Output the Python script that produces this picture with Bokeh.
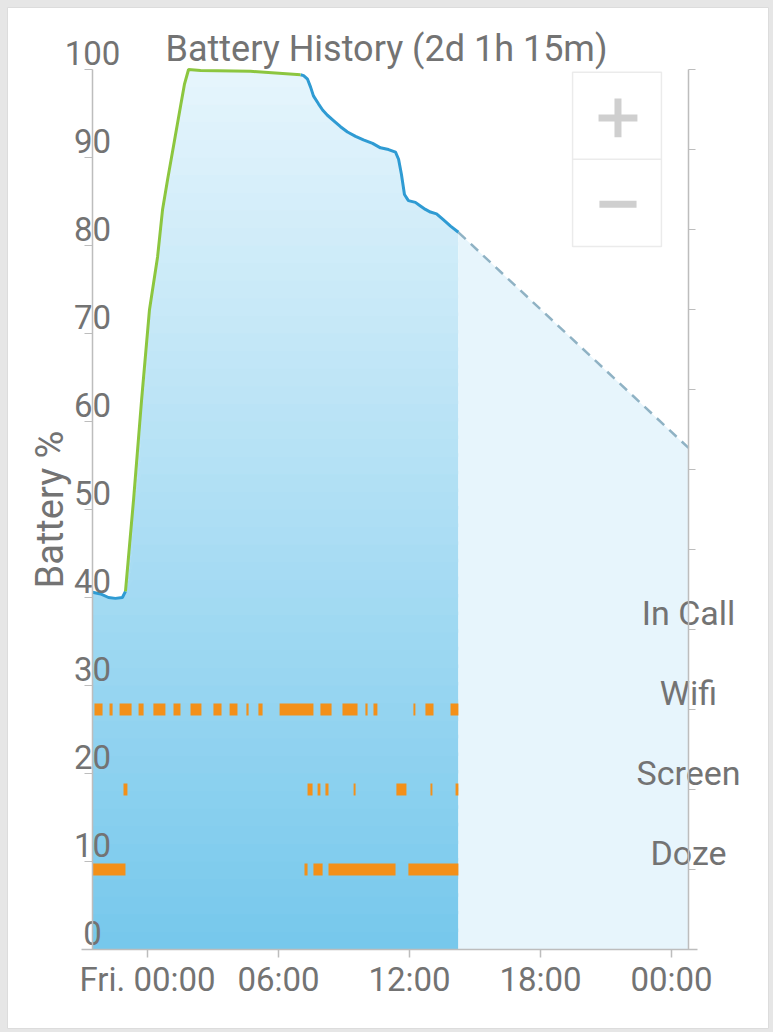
import numpy as np
from bokeh.plotting import figure
from bokeh.models import Range1d, LinearAxis, FixedTicker
from bokeh.core.properties import value
from bokeh.embed import file_html
from bokeh.resources import INLINE

# ---------------- data ----------------
title_text = "Battery History (2d 1h 15m)"
y_axis_label = "Battery %"
x_tick_hours = [0, 6, 12, 18, 24]
x_tick_labels = ["Fri. 00:00", "06:00", "12:00", "18:00", "00:00"]
y_ticks = [0, 10, 20, 30, 40, 50, 60, 70, 80, 90, 100]
event_rows = ["Doze", "Screen", "Wifi", "In Call"]   # rows 1..4 on right axis
event_row_pos = [1, 2, 3, 4]

# hours relative to Friday 00:00
pre_hours = [-2.52, -2.15, -1.79, -1.47, -1.15, -1.01]
pre_level = [40.6, 40.4, 40.0, 39.9, 40.0, 40.7]

charge_hours = [-1.01, -0.64, -0.27, 0.09, 0.46, 0.69, 0.92, 1.24, 1.51, 1.69, 1.88, 2.43, 4.72, 7.01]
charge_level = [40.7, 51.1, 62.5, 72.7, 78.7, 84.1, 87.5, 92.0, 95.8, 98.3, 100.0, 99.9, 99.8, 99.4]

discharge_hours = [7.01, 7.15, 7.33, 7.47, 7.60, 7.83, 8.02, 8.24, 8.52, 8.84, 9.16, 9.53, 9.89,
                   10.31, 10.67, 11.04, 11.36, 11.50, 11.63, 11.77, 11.95, 12.27, 12.50, 12.73,
                   12.96, 13.24, 13.56, 13.88, 14.24]
discharge_level = [99.4, 99.3, 98.9, 98.0, 97.0, 96.1, 95.4, 94.8, 94.2, 93.5, 92.9, 92.4, 92.0,
                   91.6, 91.1, 90.9, 90.6, 89.8, 88.1, 85.8, 85.1, 84.9, 84.5, 84.1,
                   83.8, 83.6, 82.9, 82.2, 81.5]

pred_hours = [14.24, 24.78]
pred_level = [81.5, 57.0]

wifi_start = [-2.43, -1.74, -1.28, -0.41, 0.27, 1.19, 1.97, 3.02, 3.76, 4.53, 5.08, 6.05, 7.92,
              8.93, 9.98, 10.35, 12.18, 12.73, 13.88]
wifi_end = [-2.06, -1.60, -0.73, -0.18, 0.82, 1.51, 2.47, 3.39, 4.12, 4.63, 5.27, 7.60, 8.43,
            9.62, 10.08, 10.53, 12.27, 13.10, 14.24]

screen_start = [-1.10, 7.33, 7.79, 8.15, 9.44, 11.40, 12.96, 14.11]
screen_end = [-0.92, 7.56, 7.92, 8.29, 9.53, 11.86, 13.05, 14.24]

doze_start = [-2.52, 7.19, 7.60, 8.29, 11.95]
doze_end = [-1.01, 7.33, 8.02, 11.36, 14.24]

# ---------------- layout / styles ----------------
FONT = "Roboto"
TXT = "#737373"
AXIS = "#bdbdbd"
BLUE = "#2f9bd3"
GREEN = "#8cc63f"
ORANGE = "#f39019"

W, H = 772, 1030
FR_L, FR_R, FR_T, FR_B = 7, 768, 7, 1028      # card (frame) in px
AX_L, AX_R, AX_T, AX_B = 92, 688, 69, 949     # plot area in px
X0, X1 = -2.52, 24.78                         # hours at plot-area edges
N_ROWS = 11                                   # right axis span
LBL_UP = 16.5                                 # tick labels sit above their ticks (px)

hpp = (X1 - X0) / (AX_R - AX_L)
vpp = 100.0 / (AX_B - AX_T)
epp = N_ROWS / (AX_B - AX_T)

x_range = Range1d(X0 - (AX_L - FR_L) * hpp, X1 + (FR_R - AX_R) * hpp)
y_range = Range1d(-(FR_B - AX_B) * vpp, 100 + (AX_T - FR_T) * vpp)
ev_range = Range1d(-(FR_B - AX_B) * epp, N_ROWS + (AX_T - FR_T) * epp)

p = figure(width=W, height=H, output_backend="svg", toolbar_location=None, title=None,
           x_range=x_range, y_range=y_range, x_axis_location=None, y_axis_location=None,
           min_border_left=FR_L, min_border_right=W - FR_R,
           min_border_top=FR_T, min_border_bottom=H - FR_B,
           background_fill_color="white", border_fill_color="#e6e6e6",
           outline_line_color="#dcdcdc")
p.extra_y_ranges = {"events": ev_range}
p.grid.visible = False
for g in p.xgrid + p.ygrid:
    g.visible = False

try:
    from bokeh.models import GlobalInlineStyleSheet
    p.stylesheets = [GlobalInlineStyleSheet(css="body{background:#e6e6e6;}")]
except Exception:
    pass

# x axis at y = 0
xa = LinearAxis(fixed_location=0, ticker=FixedTicker(ticks=x_tick_hours),
                bounds=(X0 - 11 * hpp, X1 + 9 * hpp))
xa.major_label_overrides = {h: s for h, s in zip(x_tick_hours, x_tick_labels)}
xa.major_label_text_font = FONT
xa.major_label_text_font_size = "33px"
xa.major_label_text_color = TXT
xa.major_label_standoff = 2
xa.major_tick_out = 8
xa.major_tick_in = 0
xa.minor_tick_out = 0
xa.minor_tick_in = 0
xa.axis_line_color = AXIS
xa.axis_line_width = 1.5
xa.major_tick_line_color = AXIS
xa.major_tick_line_width = 1.5
p.add_layout(xa, "below")

# left axis at x = X0
ya = LinearAxis(fixed_location=X0, ticker=FixedTicker(ticks=y_ticks), bounds=(0, 100))
ya.major_label_text_color = None
ya.major_tick_out = 8
ya.major_tick_in = 0
ya.minor_tick_out = 0
ya.minor_tick_in = 0
ya.axis_line_color = AXIS
ya.axis_line_width = 1.5
ya.major_tick_line_color = AXIS
ya.major_tick_line_width = 1.2
p.add_layout(ya, "left")

# right axis (event rows) at x = X1
ra = LinearAxis(y_range_name="events", fixed_location=X1,
                ticker=FixedTicker(ticks=list(range(N_ROWS + 1))), bounds=(0, N_ROWS))
ra.major_label_text_color = None
ra.major_tick_out = 7
ra.major_tick_in = 0
ra.minor_tick_out = 0
ra.minor_tick_in = 0
ra.axis_line_color = AXIS
ra.axis_line_width = 1.5
ra.major_tick_line_color = AXIS
ra.major_tick_line_width = 1.2
p.add_layout(ra, "right")

# gradient area under the recorded curve
full_hours = np.array(pre_hours + charge_hours[1:] + discharge_hours[1:])
full_level = np.array(pre_level + charge_level[1:] + discharge_level[1:])
levels = np.linspace(0, 100, 51)
c_bot = np.array([0x76, 0xc8, 0xec])
c_top = np.array([0xe6, 0xf5, 0xfc])
for lo, hi in zip(levels[:-1], levels[1:]):
    t = (lo + hi) / 200.0
    c = (c_bot + (c_top - c_bot) * t).round().astype(int)
    col = "#%02x%02x%02x" % tuple(c)
    p.varea(x=full_hours, y1=np.minimum(full_level, lo),
            y2=np.minimum(full_level, hi + 0.4), fill_color=col)

# predicted area
p.varea(x=pred_hours, y1=[0, 0], y2=pred_level, fill_color="#e7f5fc")

# events
p.hbar(y=[3] * len(wifi_start), left=wifi_start, right=wifi_end, height=0.15,
       fill_color=ORANGE, line_color=None, y_range_name="events")
p.hbar(y=[2] * len(screen_start), left=screen_start, right=screen_end, height=0.15,
       fill_color=ORANGE, line_color=None, y_range_name="events")
p.hbar(y=[1] * len(doze_start), left=doze_start, right=doze_end, height=0.15,
       fill_color=ORANGE, line_color=None, y_range_name="events")

# lines
p.line(pred_hours, pred_level, line_color="#8fb2c4", line_width=2.5, line_dash="10 7")
p.line(pre_hours, pre_level, line_color=BLUE, line_width=3)
p.line(discharge_hours, discharge_level, line_color=BLUE, line_width=3)
p.line(charge_hours, charge_level, line_color=GREEN, line_width=3)

# zoom buttons (decoration)
p.quad(left=[19.47], right=[23.54], bottom=[79.9], top=[99.7], fill_color="white",
       line_color="#ebebeb", line_width=1.5)
p.segment(x0=[19.47], x1=[23.54], y0=[89.8], y1=[89.8], line_color="#ebebeb", line_width=1.5)
p.segment(x0=[20.66, 21.55], x1=[22.44, 21.55], y0=[94.5, 96.7], y1=[94.5, 92.3],
          line_color="#cfcfcf", line_width=7)
p.segment(x0=[20.70], x1=[22.40], y0=[84.7], y1=[84.7], line_color="#cfcfcf", line_width=7)

# left tick labels, sitting just above each tick
p.text(x=[X0] * len(y_ticks), y=[t + LBL_UP * vpp for t in y_ticks],
       text=[str(t) for t in y_ticks], text_align="center", text_baseline="middle",
       text_font=value(FONT), text_font_size="33px", text_color=TXT)

# right event labels
p.text(x=[X1] * len(event_rows), y=[r + LBL_UP * epp for r in event_row_pos], text=event_rows,
       text_align="center", text_baseline="middle", text_font=value(FONT),
       text_font_size="34px", text_color=TXT, y_range_name="events")

# title
p.text(x=[(X0 + X1) / 2 - 4 * hpp], y=[100 + 21 * vpp], text=[title_text],
       text_align="center", text_baseline="middle", text_font=value(FONT),
       text_font_size="36px", text_color=TXT)

# y axis title
p.text(x=[X0 - 43 * hpp], y=[50], text=[y_axis_label], angle=np.pi / 2,
       text_align="center", text_baseline="middle", text_font=value(FONT),
       text_font_size="38px", text_color=TXT)

open("out.html", "w").write(file_html(p, INLINE))
